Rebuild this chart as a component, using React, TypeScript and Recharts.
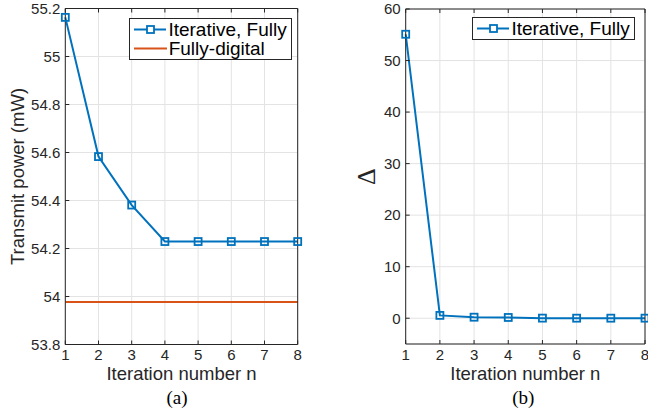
import React from 'react';
import { LineChart, Line, XAxis, YAxis, CartesianGrid, Legend } from 'recharts';

// values
const iterations = [1, 2, 3, 4, 5, 6, 7, 8];
const iterativePower = [55.163, 54.583, 54.381, 54.229, 54.229, 54.229, 54.229, 54.229];
const fullyDigitalPower = 53.977;
const deltaValues = [55.1, 0.55, 0.2, 0.15, 0.02, 0.01, 0.01, 0.01];

const powerTicks = [53.8, 54, 54.2, 54.4, 54.6, 54.8, 55, 55.2];
const deltaTicks = [0, 10, 20, 30, 40, 50, 60];
const seriesOrder = ['Iterative, Fully', 'Fully-digital'];

const powerData = iterations.map((n, i) => ({
  n,
  iterative: iterativePower[i],
  digital: fullyDigitalPower,
}));
const deltaData = iterations.map((n, i) => ({ n, iterative: deltaValues[i] }));

const BLUE = '#0072BD';
const ORANGE = '#D95319';
const AXIS = '#262626';
const GRID = '#e3e3e3';
const SANS = '"Liberation Sans", Arial, Helvetica, sans-serif';
const SERIF = '"Liberation Serif", "Times New Roman", serif';
const TICK_LEN = 4;
const TICK_FONT = 15;
const TITLE_FONT = 18.5;

type Side = 'bottom' | 'top' | 'left' | 'right';

// MATLAB style ticks: marks point into the plot box
const insideTick = (side: Side, showLabel: boolean) => (props: any) => {
  const { x, y, payload } = props;
  const v = payload.value;
  let line;
  if (side === 'bottom') line = <line x1={x} y1={y} x2={x} y2={y - TICK_LEN} stroke={AXIS} />;
  else if (side === 'top') line = <line x1={x} y1={y} x2={x} y2={y + TICK_LEN} stroke={AXIS} />;
  else if (side === 'left') line = <line x1={x} y1={y} x2={x + TICK_LEN} y2={y} stroke={AXIS} />;
  else line = <line x1={x} y1={y} x2={x - TICK_LEN} y2={y} stroke={AXIS} />;
  let text = null;
  if (showLabel && side === 'bottom') {
    text = (
      <text x={x} y={y + 15.8} textAnchor="middle" fontSize={TICK_FONT} fontFamily={SANS} fill={AXIS}>
        {String(v)}
      </text>
    );
  } else if (showLabel && side === 'left') {
    text = (
      <text x={x - 5} y={y + 5.3} textAnchor="end" fontSize={TICK_FONT} fontFamily={SANS} fill={AXIS}>
        {String(v)}
      </text>
    );
  }
  return (
    <g>
      {line}
      {text}
    </g>
  );
};

const SquareDot = (props: any) => {
  const { cx, cy, index } = props;
  if (cx == null || cy == null) return null;
  return (
    <rect key={index} x={cx - 3.5} y={cy - 3.5} width={7} height={7} fill="none" stroke={BLUE} strokeWidth={1.8} />
  );
};

const LegendBox = ({ payload }: any) => {
  const items = [...(payload || [])].sort(
    (a: any, b: any) => seriesOrder.indexOf(a.value) - seriesOrder.indexOf(b.value)
  );
  return (
    <div
      style={{
        boxSizing: 'border-box',
        width: 163,
        border: `1px solid ${AXIS}`,
        background: '#fff',
        padding: '1px 4px 1px 4px',
      }}
    >
      {items.map((entry: any) => (
        <div key={entry.value} style={{ display: 'flex', alignItems: 'center', height: 19 }}>
          <svg width={33} height={19} style={{ display: 'block' }}>
            <line x1={0} y1={9.5} x2={33} y2={9.5} stroke={entry.color} strokeWidth={2} />
            {entry.type === 'square' && (
              <rect x={13} y={6} width={7} height={7} fill="#fff" stroke={entry.color} strokeWidth={1.8} />
            )}
          </svg>
          <span
            style={{ marginLeft: 2, fontSize: 19, fontFamily: SANS, color: '#000', lineHeight: '19px', whiteSpace: 'nowrap' }}
          >
            {entry.value}
          </span>
        </div>
      ))}
    </div>
  );
};

const xTitle = (cx: number, captionX: number, caption: string) => () => (
  <g>
    <text x={cx} y={380} textAnchor="middle" fontSize={TITLE_FONT} fontFamily={SANS} fill={AXIS}>
      Iteration number n
    </text>
    <text x={captionX} y={404} textAnchor="middle" fontSize={19} fontFamily={SERIF} fill="#000">
      {caption}
    </text>
  </g>
);

const yTitle = (cx: number, cy: number, text: string, font: string, size: number, shift: number) => () => (
  <text
    x={cx}
    y={cy + shift}
    transform={`rotate(-90, ${cx}, ${cy})`}
    textAnchor="middle"
    fontSize={size}
    fontFamily={font}
    fill={AXIS}
  >
    {text}
  </text>
);

const PANEL_W = 324;
const PANEL_H = 418;
// axes get 1px so they are drawn; margins are reduced by the same amount
const AX = 1;

const axisCommon = {
  type: 'number' as const,
  interval: 0 as const,
  tickSize: 0,
  tickMargin: 0,
  stroke: AXIS,
};

const PowerPanel = () => {
  const margin = {
    top: 8.5 - AX,
    left: 65.3 - AX,
    right: PANEL_W - 297.7 - AX,
    bottom: PANEL_H - 344.5 - AX,
  };
  const plotCx = (65.3 + 297.7) / 2;
  return (
    <LineChart width={PANEL_W} height={PANEL_H} data={powerData} margin={margin}>
      <CartesianGrid stroke={GRID} />
      <XAxis
        {...axisCommon}
        dataKey="n"
        domain={[1, 8]}
        ticks={iterations}
        height={AX}
        tick={insideTick('bottom', true)}
        label={xTitle(plotCx, 177, '(a)')}
      />
      <XAxis
        {...axisCommon}
        xAxisId="top"
        orientation="top"
        dataKey="n"
        domain={[1, 8]}
        ticks={iterations}
        height={AX}
        tick={insideTick('top', false)}
      />
      <YAxis
        {...axisCommon}
        domain={[53.8, 55.2]}
        ticks={powerTicks}
        width={AX}
        tick={insideTick('left', true)}
        label={yTitle(17, 176.5, 'Transmit power (mW)', SANS, TITLE_FONT, 6.6)}
      />
      <YAxis
        {...axisCommon}
        yAxisId="right"
        orientation="right"
        domain={[53.8, 55.2]}
        ticks={powerTicks}
        width={AX}
        tick={insideTick('right', false)}
      />
      <Legend
        layout="vertical"
        align="center"
        verticalAlign="middle"
        content={LegendBox}
        wrapperStyle={{ left: 128.7, top: 18.3, width: 'auto' }}
      />
      <Line
        dataKey="iterative"
        name="Iterative, Fully"
        stroke={BLUE}
        strokeWidth={2}
        dot={SquareDot}
        activeDot={false}
        legendType="square"
        isAnimationActive={false}
      />
      <Line
        dataKey="digital"
        name="Fully-digital"
        stroke={ORANGE}
        strokeWidth={2}
        dot={false}
        activeDot={false}
        legendType="line"
        isAnimationActive={false}
      />
    </LineChart>
  );
};

const DeltaPanel = () => {
  const margin = {
    top: 9 - AX,
    left: 405.7 - PANEL_W - AX,
    right: PANEL_W - (645 - PANEL_W) - AX,
    bottom: PANEL_H - 344 - AX,
  };
  const plotCx = (405.7 + 645) / 2 - PANEL_W;
  return (
    <LineChart width={PANEL_W} height={PANEL_H} data={deltaData} margin={margin}>
      <CartesianGrid stroke={GRID} />
      <XAxis
        {...axisCommon}
        dataKey="n"
        domain={[1, 8]}
        ticks={iterations}
        height={AX}
        tick={insideTick('bottom', true)}
        label={xTitle(plotCx, 523.3 - PANEL_W, '(b)')}
      />
      <XAxis
        {...axisCommon}
        xAxisId="top"
        orientation="top"
        dataKey="n"
        domain={[1, 8]}
        ticks={iterations}
        height={AX}
        tick={insideTick('top', false)}
      />
      <YAxis
        {...axisCommon}
        domain={[-5, 60]}
        ticks={deltaTicks}
        width={AX}
        tick={insideTick('left', true)}
        label={yTitle(366 - PANEL_W, 176.5, '\u0394', SERIF, 26, 9)}
      />
      <YAxis
        {...axisCommon}
        yAxisId="right"
        orientation="right"
        domain={[-5, 60]}
        ticks={deltaTicks}
        width={AX}
        tick={insideTick('right', false)}
      />
      <Legend
        layout="vertical"
        align="center"
        verticalAlign="middle"
        content={LegendBox}
        wrapperStyle={{ left: 471.7 - PANEL_W, top: 17.3, width: 'auto' }}
      />
      <Line
        dataKey="iterative"
        name="Iterative, Fully"
        stroke={BLUE}
        strokeWidth={2}
        dot={SquareDot}
        activeDot={false}
        legendType="square"
        isAnimationActive={false}
      />
    </LineChart>
  );
};

export default function App() {
  return (
    <div style={{ position: 'absolute', left: 0, top: 0, width: 648, height: 418, background: '#fff' }}>
      <div style={{ position: 'absolute', left: 0, top: 0 }}>
        <PowerPanel />
      </div>
      <div style={{ position: 'absolute', left: PANEL_W, top: 0 }}>
        <DeltaPanel />
      </div>
    </div>
  );
}
